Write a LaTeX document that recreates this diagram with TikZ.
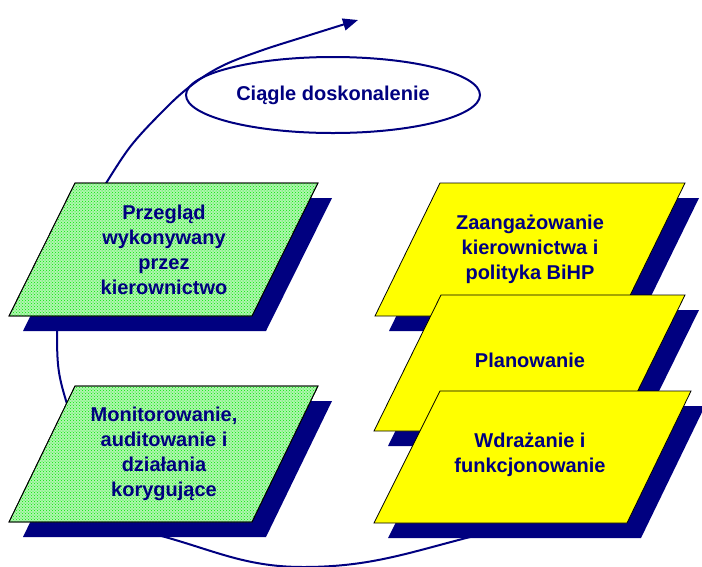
\documentclass[tikz,border=0pt]{standalone}
\usepackage{fontspec}
\setmainfont{Liberation Sans}
\usetikzlibrary{patterns,arrows.meta,shapes.geometric}
\definecolor{navy}{RGB}{0,0,128}
\definecolor{dotgreen}{RGB}{0,235,0}
\definecolor{palegreen}{RGB}{175,245,175}
\definecolor{ylw}{RGB}{255,255,0}
\tikzset{
  boxtext/.style={text=navy, font=\fontsize{20}{25}\selectfont\bfseries, align=center, inner sep=0pt},
  loopline/.style={draw=navy, line width=2pt},
  shadowfill/.style={fill=navy, draw=none},
  greenbox/.style={fill=palegreen, draw=black, line width=0.8pt},
  greendots/.style={pattern=crosshatch dots, pattern color=dotgreen},
  yellowbox/.style={fill=ylw, draw=black, line width=0.8pt},
}
\begin{document}
\begin{tikzpicture}[x=1pt,y=-1pt]
\useasboundingbox (0,0) rectangle (702,566);
% loop pieces behind boxes
\coordinate (l0) at (57,320);
\coordinate (l1) at (72,420);
\draw[loopline] (l0) .. controls (57,372) .. (l1);
\coordinate (b0) at (150,533);
\coordinate (bm) at (303,567);
\coordinate (b1) at (478,535);
\draw[loopline] (b0) to[out=-14,in=180] (bm) to[out=0,in=-166] (b1);
% ellipse
\node[ellipse, draw=navy, line width=2pt, minimum width=294pt, minimum height=76pt, inner sep=0pt,
      text=navy, font=\fontsize{20}{25}\selectfont\bfseries] (ell) at (333,95) {Ciągle doskonalenie};
% arrow
\coordinate (a0) at (105,185);
\coordinate (a1) at (358,20);
\draw[loopline,-{Triangle[length=15pt,width=12pt]}] plot[smooth,tension=0.6] coordinates
  {(105,185) (130,147) (160,114) (188,88) (220,67) (260,51) (310,35) (358,20)};
% green boxes
\path[shadowfill] (89,198) -- (332,198) -- (266,331) -- (23,331) -- cycle;
\path[greenbox] (75,183) -- (318,183) -- (252,316) -- (9,316) -- cycle;
\path[greendots] (75,183) -- (318,183) -- (252,316) -- (9,316) -- cycle;
\draw[black, line width=0.8pt] (75,183) -- (318,183) -- (252,316) -- (9,316) -- cycle;
\node[boxtext] (g1) at (164,250) {Przegląd\\wykonywany\\przez\\kierownictwo};
\path[shadowfill] (89,401) -- (332,401) -- (266,537) -- (23,537) -- cycle;
\path[greenbox] (75,386) -- (318,386) -- (252,522) -- (9,522) -- cycle;
\path[greendots] (75,386) -- (318,386) -- (252,522) -- (9,522) -- cycle;
\draw[black, line width=0.8pt] (75,386) -- (318,386) -- (252,522) -- (9,522) -- cycle;
\node[boxtext] (g2) at (164,454) {Monitorowanie,\\auditowanie i\\działania\\korygujące};
% yellow boxes
\path[shadowfill] (454,198) -- (699,198) -- (634,331) -- (389,331) -- cycle;
\path[yellowbox] (440,183) -- (685,183) -- (620,316) -- (375,316) -- cycle;
\node[boxtext] (y1) at (530,249) {Zaangażowanie\\kierownictwa i\\polityka BiHP};
\path[shadowfill] (455,310) -- (699,310) -- (632,446) -- (388,446) -- cycle;
\path[yellowbox] (441,295) -- (685,295) -- (618,431) -- (374,431) -- cycle;
\node[boxtext] (y2) at (530,360) {Planowanie};
\path[shadowfill] (454,406) -- (705,406) -- (641,538) -- (388,538) -- cycle;
\path[yellowbox] (440,391) -- (691,391) -- (627,523) -- (374,523) -- cycle;
\node[boxtext] (y3) at (530,455) {Wdrażanie i\\funkcjonowanie};
\end{tikzpicture}
\end{document}
